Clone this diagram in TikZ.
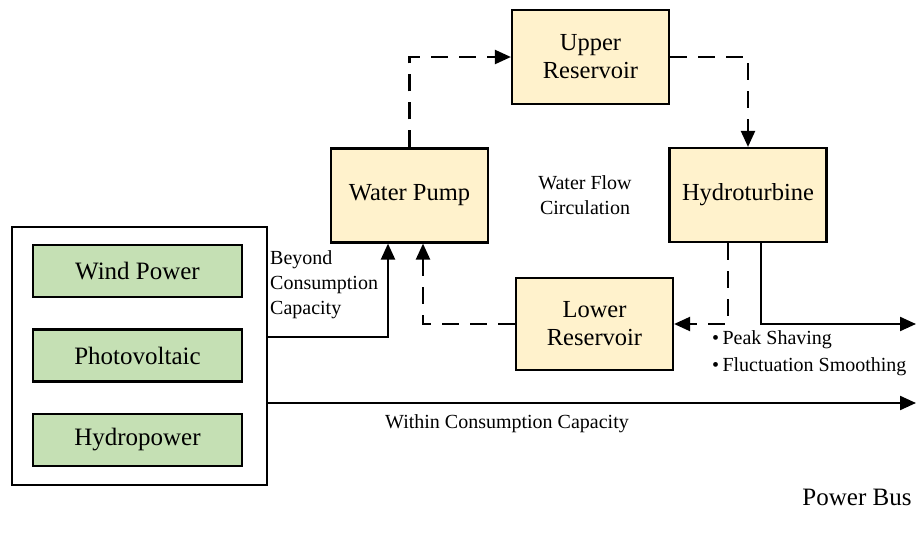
\documentclass[tikz,border=0pt]{standalone}
\usepackage{fontspec}
\setmainfont{Liberation Serif}
\usetikzlibrary{arrows.meta,positioning}
\definecolor{source}{HTML}{C5E0B4}
\definecolor{storage}{HTML}{FFF2CC}

\begin{document}
\begin{tikzpicture}[x=1pt,y=-1pt,
  box/.style={draw,line width=2.2pt,minimum width=157pt,minimum height=94pt,font=\fontsize{24.5}{28}\selectfont,align=center,inner sep=2pt},
  src/.style={draw,line width=2.2pt,fill=source,minimum width=209pt,minimum height=52pt,font=\fontsize{25}{28}\selectfont},
  lbl/.style={font=\fontsize{20}{25}\selectfont,align=left,inner sep=0pt},
  flow/.style={line width=2.2pt,-{Triangle[length=16pt,width=14pt]}},
  dashflow/.style={flow,dash pattern=on 17pt off 11pt},
]
  \useasboundingbox (0,0) rectangle (916,538);

  % generation side
  \node[draw,line width=2.2pt,minimum width=255pt,minimum height=258pt] (plant) at (139.5,356) {};
  \node[src] (wind) at (137.5,271) {Wind Power};
  \node[src] (pv) at (137.5,355.5) {Photovoltaic};
  \node[src] (hydro) at (137.5,440) {Hydropower};

  % pumped storage loop
  \node[box,fill=storage] (pump) at (409.5,195.5) {Water Pump};
  \node[box,fill=storage] (upper) at (590.5,57) {Upper\\Reservoir};
  \node[box,fill=storage] (turb) at (748,195) {Hydroturbine};
  \node[box,fill=storage,minimum height=92pt] (lower) at (594.5,324) {Lower\\Reservoir};
  \node[lbl,align=center] (loop) at (585,195) {Water Flow\\Circulation};

  % connection points on the bus side
  \coordinate (beyond) at (267,337);
  \coordinate (within) at (267,403);
  \coordinate (bus1) at (916,324);
  \coordinate (bus2) at (916,403);

  \draw[flow] (beyond) -| ([xshift=-21.5pt]pump.south);
  \draw[dashflow] (lower.west) -| ([xshift=13.5pt]pump.south);
  \draw[dashflow] (pump.north) |- (upper.west);
  \draw[dashflow] (upper.east) -| (turb.north);
  \draw[dashflow] ([xshift=-20pt]turb.south) |- (lower.east);
  \draw[flow] ([xshift=13pt]turb.south) |- (bus1);
  \draw[flow] (within) -- (bus2);

  \node[lbl,anchor=north west] (over) at (270,250) {Beyond\\Consumption\\Capacity};
  \node[lbl,anchor=west] (peak) at (712,340) {\textbullet\,Peak Shaving};
  \node[lbl,below=8pt of peak.south west,anchor=north west] (smooth) {\textbullet\,Fluctuation Smoothing};
  \node[lbl] (inside) at (507,424) {Within Consumption Capacity};
  \node[font=\fontsize{25}{28}\selectfont,inner sep=0pt] (bus) at (857,497) {Power Bus};
\end{tikzpicture}
\end{document}
